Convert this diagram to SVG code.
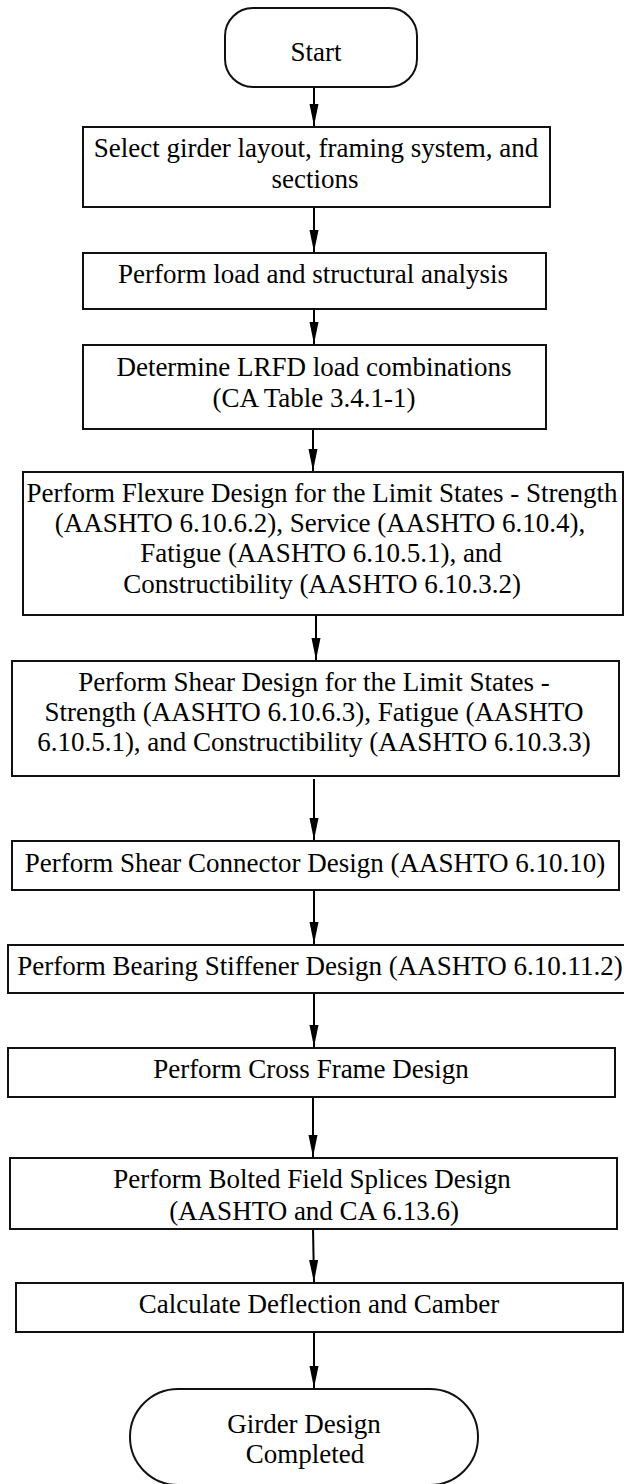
<svg xmlns="http://www.w3.org/2000/svg" width="624" height="1484" viewBox="0 0 624 1484">
<style>
.box{fill:#fff;stroke:#111;stroke-width:2}
.t{font-family:"Liberation Serif","Times New Roman",serif;font-size:27px;fill:#000;text-anchor:middle}
.c{fill:none;stroke:#000;stroke-width:2}
</style>
<defs>
<marker id="ah" markerUnits="userSpaceOnUse" markerWidth="23" markerHeight="10" refX="22" refY="4.5" orient="auto">
<path d="M0,0 L22,4.5 L0,9 z" fill="#000"/>
</marker>
</defs>
<rect width="624" height="1484" fill="#fff"/>
<g id="connectors">
<line class="c" x1="314" y1="87" x2="314" y2="126" marker-end="url(#ah)"/>
<line class="c" x1="314" y1="207" x2="314" y2="252" marker-end="url(#ah)"/>
<line class="c" x1="314" y1="309" x2="314" y2="344" marker-end="url(#ah)"/>
<line class="c" x1="313" y1="429" x2="313" y2="471" marker-end="url(#ah)"/>
<line class="c" x1="316" y1="615" x2="316" y2="660" marker-end="url(#ah)"/>
<line class="c" x1="314" y1="779" x2="314" y2="840" marker-end="url(#ah)"/>
<line class="c" x1="314" y1="887" x2="314" y2="944" marker-end="url(#ah)"/>
<line class="c" x1="314" y1="993" x2="314" y2="1047" marker-end="url(#ah)"/>
<line class="c" x1="313" y1="1097" x2="313" y2="1157" marker-end="url(#ah)"/>
<line class="c" x1="313" y1="1228" x2="314" y2="1282" marker-end="url(#ah)"/>
<line class="c" x1="314" y1="1332" x2="314" y2="1388" marker-end="url(#ah)"/>
</g>
<g id="start">
<rect class="box" x="225" y="8" width="192" height="79" rx="28" ry="28"/>
<text class="t" x="316" y="61">Start</text>
</g>
<g id="select">
<rect class="box" x="83" y="127" width="467" height="80"/>
<text class="t" x="316" y="157">Select girder layout, framing system, and</text>
<text class="t" x="315" y="188">sections</text>
</g>
<g id="analysis">
<rect class="box" x="83" y="253" width="463" height="56"/>
<text class="t" x="313" y="283">Perform load and structural analysis</text>
</g>
<g id="combinations">
<rect class="box" x="83" y="345" width="463" height="84"/>
<text class="t" x="314" y="376">Determine LRFD load combinations</text>
<text class="t" x="314" y="407">(CA Table 3.4.1-1)</text>
</g>
<g id="flexure">
<rect class="box" x="23" y="472" width="600" height="143"/>
<text class="t" x="322" y="502">Perform Flexure Design for the Limit States - Strength</text>
<text class="t" x="320" y="532">(AASHTO 6.10.6.2), Service (AASHTO 6.10.4),</text>
<text class="t" x="321" y="562">Fatigue (AASHTO 6.10.5.1), and</text>
<text class="t" x="322" y="593">Constructibility (AASHTO 6.10.3.2)</text>
</g>
<g id="shear">
<rect class="box" x="12" y="661" width="607" height="115"/>
<text class="t" x="314" y="691">Perform Shear Design for the Limit States -</text>
<text class="t" x="314" y="721">Strength (AASHTO 6.10.6.3), Fatigue (AASHTO</text>
<text class="t" x="314" y="751">6.10.5.1), and Constructibility (AASHTO 6.10.3.3)</text>
</g>
<g id="connector">
<rect class="box" x="12" y="841" width="607" height="49"/>
<text class="t" x="315" y="872">Perform Shear Connector Design (AASHTO 6.10.10)</text>
</g>
<g id="bearing">
<rect class="box" x="8" y="945" width="625" height="48"/>
<text class="t" x="320" y="975">Perform Bearing Stiffener Design (AASHTO 6.10.11.2)</text>
</g>
<g id="crossframe">
<rect class="box" x="8" y="1048" width="607" height="49"/>
<text class="t" x="311" y="1078">Perform Cross Frame Design</text>
</g>
<g id="splices">
<rect class="box" x="10" y="1158" width="607" height="71"/>
<text class="t" x="312" y="1188">Perform Bolted Field Splices Design</text>
<text class="t" x="314" y="1220">(AASHTO and CA 6.13.6)</text>
</g>
<g id="deflection">
<rect class="box" x="16" y="1283" width="607" height="49"/>
<text class="t" x="319" y="1313">Calculate Deflection and Camber</text>
</g>
<g id="end">
<rect class="box" x="130" y="1389" width="348" height="96" rx="48" ry="48"/>
<text class="t" x="304" y="1433">Girder Design</text>
<text class="t" x="305" y="1463">Completed</text>
</g>
</svg>
